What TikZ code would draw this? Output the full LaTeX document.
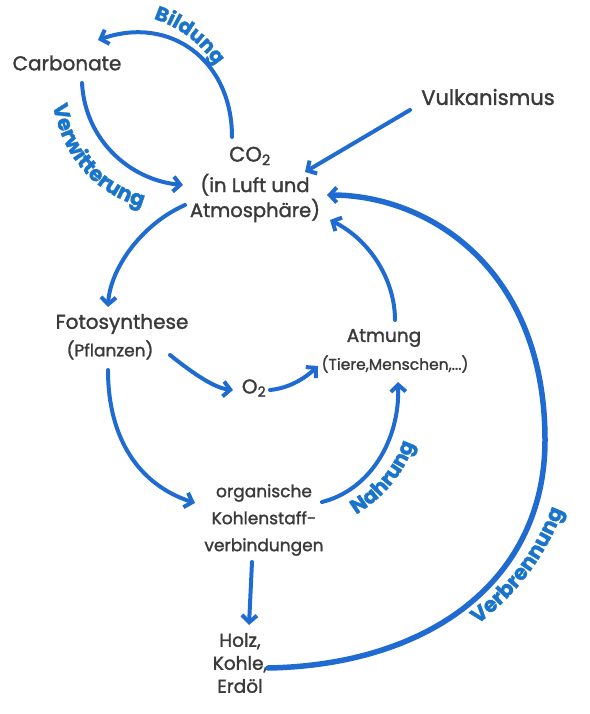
\documentclass[tikz,border=0pt]{standalone}
\usepackage{fontspec}
\setmainfont{Poppins}[FakeBold=1.5]
\usetikzlibrary{arrows.meta,decorations.text}
\definecolor{ink}{HTML}{3A3A3A}
\definecolor{flow}{HTML}{1F6BD1}
\definecolor{lab}{HTML}{1A74CC}
\tikzset{
  txt/.style={text=ink, inner sep=1pt, align=center},
  flowline/.style={draw=flow, line width=4pt, line cap=round, line join=round,
    -{Straight Barb[length=7pt,width=15pt,line width=4pt]}},
  bigline/.style={flowline, line width=5.5pt},
  curvelabel/.style={decorate, decoration={text along path, text align=center,
    text={|\color{lab}\bfseries\fontsize{#1}{#1}\selectfont|\labtext}}}
}
\newcommand\labtext{}
\begin{document}
\begin{tikzpicture}[x=1pt,y=-1pt]
\useasboundingbox (0,0) rectangle (589,714);
% nodes
\node[txt, font=\fontsize{20}{20}\selectfont] (carb) at (67,63) {Carbonate};
\node[txt, font=\fontsize{21}{21}\selectfont] (co2) at (250,156) {CO\textsubscript{2}};
\node[txt, font=\fontsize{19.5}{25}\selectfont] (co2b) at (255,198) {(in Luft und\\Atmosphäre)};
\node[txt, font=\fontsize{21}{21}\selectfont] (vulk) at (488,97) {Vulkanismus};
\node[txt, font=\fontsize{20}{20}\selectfont] (foto) at (122,324) {Fotosynthese};
\node[txt, font=\fontsize{17}{17}\selectfont] (fotob) at (110,350) {(Pflanzen)};
\node[txt, font=\fontsize{20}{20}\selectfont] (o2) at (254,388) {O\textsubscript{2}};
\node[txt, font=\fontsize{18.5}{18}\selectfont] (atm) at (384,338) {Atmung};
\node[txt, font=\fontsize{15.5}{15}\selectfont] (atmb) at (395,364) {(Tiere,Menschen,...)};
\node[txt, font=\fontsize{17}{27}\selectfont] (org) at (264,520) {organische\\Kohlenstaff-\\verbindungen};
\node[txt, font=\fontsize{18.5}{23}\selectfont] (holz) at (240,663) {Holz,\\Kohle,\\Erdöl};
% curved labels
\renewcommand\labtext{Bildung}
\path[curvelabel=20] (115,13) .. controls (170,13) and (215,46) .. (232,101);
\renewcommand\labtext{Verwitterung}
\path[curvelabel=21] (50,82) .. controls (55,155) and (95,202) .. (165,212);
\renewcommand\labtext{Nahrung}
\path[curvelabel=20.5] (336,525) .. controls (378,506) and (410,475) .. (420,422);
\renewcommand\labtext{Verbrennung}
\path[curvelabel=21] (456,640) .. controls (505,607) and (548,565) .. (572,485);
% connectors
\draw[flowline] ([shift={(-18,-19)}]co2.center) .. controls (232,60) and (170,15) .. ([shift={(31,-23)}]carb.center);
\draw[flowline] ([shift={(15,20)}]carb.center) .. controls (85,140) and (130,180) .. ([shift={(-72,-13)}]co2b.center);
\draw[flowline] ([shift={(-78,13)}]vulk.center) -- ([shift={(50,-26)}]co2b.center);
\draw[flowline] ([shift={(-70,7)}]co2b.center) .. controls (140,225) and (110,270) .. ([shift={(-14,-17)}]foto.center);
\draw[flowline] ([shift={(60,5)}]fotob.center) .. controls (195,375) and (215,388) .. ([shift={(-21,2)}]o2.center);
\draw[flowline] ([shift={(16,2)}]o2.center) .. controls (290,388) and (305,378) .. ([shift={(-77,2)}]atmb.center);
\draw[flowline] ([shift={(11,-18)}]atm.center) .. controls (395,280) and (370,240) .. ([shift={(75,22)}]co2b.center);
\draw[flowline] ([shift={(-2,20)}]fotob.center) .. controls (108,440) and (140,485) .. ([shift={(-69,-17)}]org.center);
\draw[flowline] ([shift={(58,-18)}]org.center) .. controls (370,490) and (400,440) .. ([shift={(3,18)}]atmb.center);
\draw[flowline] ([shift={(-12,42)}]org.center) -- ([shift={(9,-38)}]holz.center);
\draw[bigline] ([shift={(28,5)}]holz.center) .. controls (430,665) and (545,580) .. (545,440) .. controls (545,270) and (430,195) .. ([shift={(72,-3)}]co2b.center);
\end{tikzpicture}
\end{document}
